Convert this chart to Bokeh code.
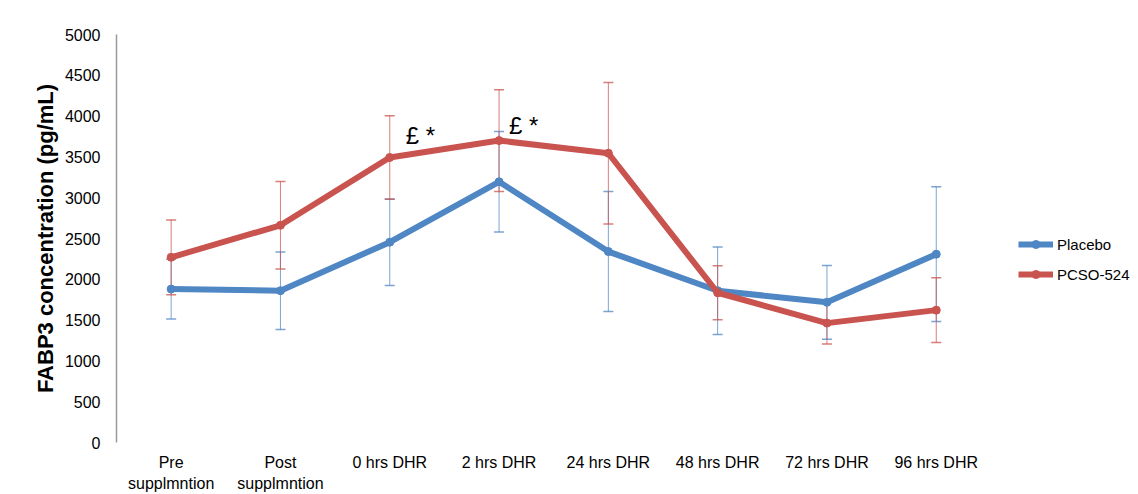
from bokeh.plotting import figure
from bokeh.models import (ColumnDataSource, Range1d, FixedTicker, SingleIntervalTicker,
                          Whisker, TeeHead, Legend, LegendItem)
from bokeh.core.properties import value
from bokeh.embed import file_html
from bokeh.resources import INLINE

# ---- data ----
categories = ["Pre\nsupplmntion", "Post\nsupplmntion", "0 hrs DHR\n ", "2 hrs DHR\n ",
              "24 hrs DHR\n ", "48 hrs DHR\n ", "72 hrs DHR\n ", "96 hrs DHR\n "]
placebo_mean = [1880, 1860, 2455, 3195, 2340, 1860, 1718, 2308]
placebo_err = [365, 475, 530, 615, 735, 535, 452, 825]
pcso_mean = [2270, 2662, 3493, 3700, 3545, 1835, 1463, 1622]
pcso_err = [458, 535, 512, 623, 866, 332, 257, 396]
annot_idx = [2, 3]
annot_text = ["£ *", "£ *"]

BLUE = "#4F86C4"
RED = "#C9534F"

xs = list(range(len(categories)))
# frame spans nearly the whole width (no outline / x-axis line is drawn);
# category spacing kept at ~109 px
FRAME_W = 1138 - 116 - 8
SPACING = 109.3
p = figure(width=1138, height=494, x_range=Range1d(-0.5, -0.5 + FRAME_W / SPACING),
           y_range=Range1d(0, 5000), output_backend="svg", toolbar_location=None,
           min_border_left=116, min_border_right=8, min_border_top=34, min_border_bottom=51)
p.outline_line_color = None
p.xgrid.visible = False
p.ygrid.visible = False
p.background_fill_color = "white"
p.border_fill_color = "white"

src_pl = ColumnDataSource(dict(x=xs, y=placebo_mean,
                               lo=[m - e for m, e in zip(placebo_mean, placebo_err)],
                               hi=[m + e for m, e in zip(placebo_mean, placebo_err)]))
src_pc = ColumnDataSource(dict(x=xs, y=pcso_mean,
                               lo=[m - e for m, e in zip(pcso_mean, pcso_err)],
                               hi=[m + e for m, e in zip(pcso_mean, pcso_err)]))

for src, col in ((src_pl, BLUE), (src_pc, RED)):
    w = Whisker(source=src, base="x", lower="lo", upper="hi", dimension="height",
                line_color=col, line_width=1, line_alpha=0.75, level="underlay",
                lower_head=TeeHead(size=10, line_color=col, line_width=1.5, line_alpha=0.75),
                upper_head=TeeHead(size=10, line_color=col, line_width=1.5, line_alpha=0.75))
    p.add_layout(w)

l1 = p.line("x", "y", source=src_pl, line_color=BLUE, line_width=6, line_join="round")
s1 = p.scatter("x", "y", source=src_pl, size=8, color=BLUE)
l2 = p.line("x", "y", source=src_pc, line_color=RED, line_width=6, line_join="round")
s2 = p.scatter("x", "y", source=src_pc, size=8, color=RED)

annot_x = [xs[i] for i in annot_idx]
annot_y = [pcso_mean[i] for i in annot_idx]
p.text(x=annot_x, y=annot_y, text=annot_text, x_offset=[16, 10], y_offset=[-22, -15],
       text_font=value("Liberation Sans"), text_font_size="24px", text_color="black",
       text_baseline="alphabetic", text_align="left")

# axes
ya = p.yaxis[0]
ya.ticker = SingleIntervalTicker(interval=500)
ya.axis_label = "FABP3 concentration (pg/mL)"
ya.axis_label_text_font = "Liberation Sans"
ya.axis_label_text_font_style = "bold"
ya.axis_label_text_font_size = "22px"
ya.axis_label_text_color = "black"
ya.axis_label_standoff = 4
ya.axis_line_color = "#999999"
ya.axis_line_width = 1.5
ya.major_tick_line_color = None
ya.minor_tick_line_color = None
ya.major_label_standoff = 10
ya.major_label_text_font = "Liberation Sans"
ya.major_label_text_font_size = "16px"
ya.major_label_text_color = "black"

xa = p.xaxis[0]
xa.ticker = FixedTicker(ticks=xs)
xa.major_label_overrides = {x: lab for x, lab in zip(xs, categories)}
xa.axis_line_color = None
xa.major_tick_line_color = None
xa.minor_tick_line_color = None
xa.major_label_standoff = 5
xa.major_label_text_font = "Liberation Sans"
xa.major_label_text_font_size = "16px"
xa.major_label_text_color = "black"
xa.major_label_text_align = "center"
xa.major_label_text_line_height = 1.25

legend = Legend(items=[LegendItem(label="Placebo", renderers=[l1, s1]),
                       LegendItem(label="PCSO-524", renderers=[l2, s2])],
                location=(902, 158), orientation="vertical",
                border_line_color=None, background_fill_alpha=0,
                padding=0, margin=0, spacing=10, glyph_width=35, glyph_height=20,
                label_height=20, label_standoff=4,
                label_text_font="Liberation Sans", label_text_font_size="15px",
                label_text_color="black")
p.add_layout(legend)

open("out.html", "w").write(file_html(p, INLINE))
